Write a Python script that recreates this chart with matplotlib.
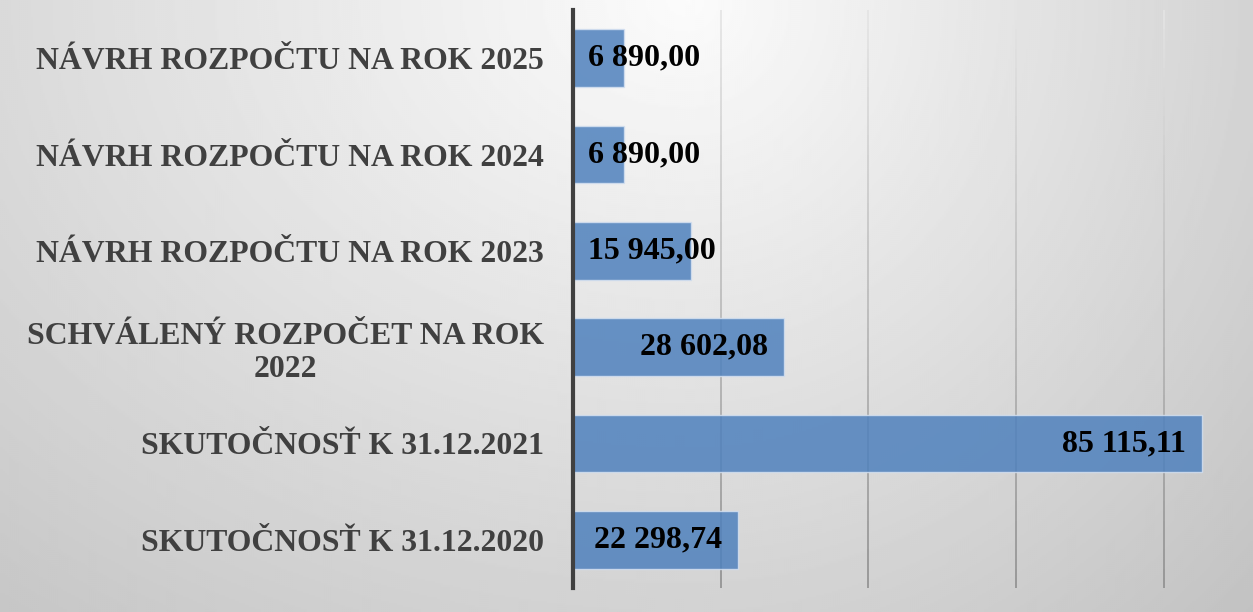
#!/usr/bin/env python3
"""Horizontal bar chart of budget figures (Slovak report style)."""

import matplotlib

matplotlib.use("Agg")
import matplotlib.pyplot as plt
import numpy as np
from matplotlib.collections import LineCollection

categories = [
    "SKUTOČNOSŤ K 31.12.2020",
    "SKUTOČNOSŤ K 31.12.2021",
    "SCHVÁLENÝ ROZPOČET NA ROK\n2022",
    "NÁVRH ROZPOČTU NA ROK 2023",
    "NÁVRH ROZPOČTU NA ROK 2024",
    "NÁVRH ROZPOČTU NA ROK 2025",
]
values = [22298.74, 85115.11, 28602.08, 15945.00, 6890.00, 6890.00]
value_labels = ["22 298,74", "85 115,11", "28 602,08", "15 945,00", "6 890,00", "6 890,00"]
grid_ticks = [0, 20000, 40000, 60000, 80000]

W, H, DPI = 1253, 612, 100
plt.rcParams["font.family"] = ["Liberation Serif", "DejaVu Serif"]

fig = plt.figure(figsize=(W / DPI, H / DPI), dpi=DPI)

# background gradient: light at top centre, grey towards edges and bottom
bg = fig.add_axes([0, 0, 1, 1])
yy, xx = np.mgrid[0:H:2, 0:W:2]
cx = 0.55 * W
dx = np.where(xx < cx, (xx - cx) / 1050.0, (xx - cx) / 720.0)
dy = yy / 760.0
d = np.sqrt(dx ** 2 + dy ** 2)
shade = np.clip(0.985 - 0.2 * d, 0.76, 0.99)
bg.imshow(shade, cmap="gray", vmin=0, vmax=1, aspect="auto",
          extent=[0, 1, 0, 1], origin="upper", interpolation="bilinear")
bg.set_axis_off()

ax = fig.add_axes([573 / W, 1 - 588 / H, 1 - 573 / W, (588 - 10) / H])
ax.patch.set_alpha(0)
ax.set_xlim(0, 92050)
ax.set_ylim(-0.5, len(categories) - 0.5)

# gridlines shaded from light (top) to darker grey (bottom)
n_seg = 60
ys = np.linspace(-0.5, len(categories) - 0.5, n_seg + 1)
segs, cols = [], []
for gx in grid_ticks[1:]:
    for i in range(n_seg):
        segs.append([(gx, ys[i]), (gx, ys[i + 1])])
        t = i / n_seg
        g = 0.56 + 0.34 * t
        cols.append((g, g, g))
ax.add_collection(LineCollection(segs, colors=cols, linewidths=1.2, zorder=1))

y = np.arange(len(categories))
ax.barh(y, values, height=0.6, color="#4f81bd", alpha=0.85,
        edgecolor="#d4e0f0", linewidth=1.0, zorder=2)

ax.set_yticks(y)
ax.set_yticklabels(categories, fontsize=22.9, fontweight="bold", color="#404040",
                   multialignment="center")
ax.tick_params(axis="y", length=0, pad=21)
ax.set_xticks([])
for side in ["top", "right", "bottom"]:
    ax.spines[side].set_visible(False)
ax.spines["left"].set_color("#404040")
ax.spines["left"].set_linewidth(3)
ax.spines["left"].set_zorder(5)

# value labels: inside end, shifted right if the bar is too short
fig.canvas.draw()
renderer = fig.canvas.get_renderer()
to_data = ax.transData.inverted()
axis_px = ax.transData.transform((0, 0))[0]
for yi, v, lab in zip(y, values, value_labels):
    end_px = ax.transData.transform((v, yi))[0]
    txt = ax.text(0, yi, lab, fontsize=23, fontweight="bold", color="black",
                  ha="right", va="center", zorder=6)
    width_px = txt.get_window_extent(renderer).width
    right_px = max(end_px - 16, axis_px + 15 + width_px)
    txt.set_position((to_data.transform((right_px, 0))[0], yi))

fig.savefig("out.png", dpi=DPI)
